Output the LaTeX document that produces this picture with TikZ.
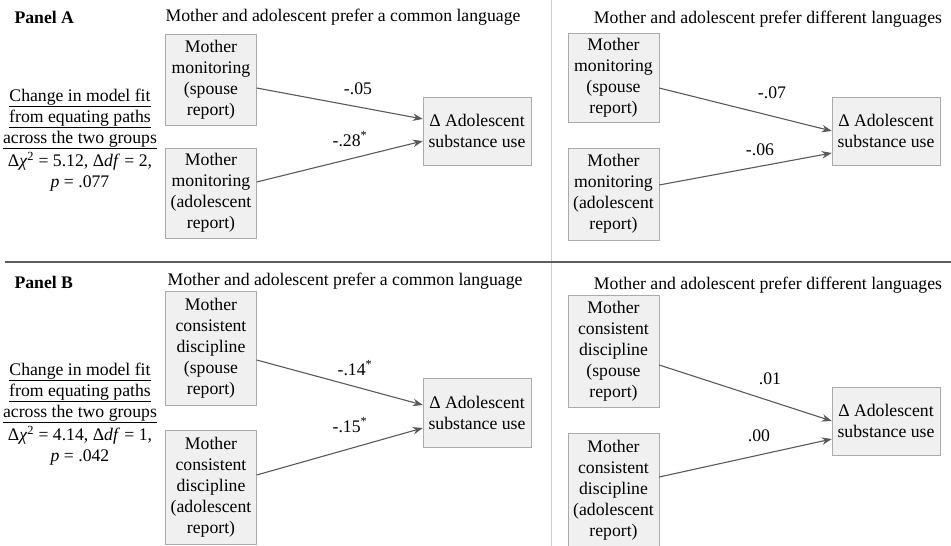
\documentclass[tikz,border=0pt]{standalone}
\usepackage{fontspec}
\setmainfont{Liberation Serif}
\usetikzlibrary{arrows.meta}

\definecolor{boxfill}{HTML}{F0F0F0}
\definecolor{boxline}{HTML}{ABABAB}
\definecolor{arrowgray}{HTML}{595959}
\definecolor{rulegray}{HTML}{5E5E5E}
\definecolor{splitgray}{HTML}{CDCDCD}

\begin{document}
\begin{tikzpicture}[x=1pt,y=-1pt,
  every node/.style={font=\fontsize{17.7}{21}\selectfont},
  varbox/.style={draw=boxline,fill=boxfill,align=center,inner sep=0pt,minimum width=91pt},
  dvbox/.style={varbox,minimum width=108pt,minimum height=68pt},
  arr/.style={draw=arrowgray,line width=1.1pt,-{Stealth[length=10pt,width=7.5pt]}}]

\useasboundingbox (0,0) rectangle (951,546);

\draw[splitgray,line width=0.9pt] (551,0) -- (551,546);
\draw[rulegray,line width=2.6pt] (5,262) -- (951,262);

% Panel A
\node at (11,17) [anchor=west,font=\fontsize{17.7}{21}\selectfont\bfseries] (pa) {Panel A};
\node at (343,17) (pa-same) {Mother and adolescent prefer a common language};
\node at (768,19) (pa-diff) {Mother and adolescent prefer different languages};

\node at (80,140) [align=center] (pa-fit) {\underline{Change in model fit}\\
  \underline{from equating paths}\\ \underline{across the two groups}\\[2pt]
  Δ\textit{χ}\textsuperscript{2} = 5.12, Δ\textit{df} = 2,\\ \textit{p} = .077};

\node at (211,79.5) [varbox,minimum height=91pt] (a-sp) {Mother\\ monitoring\\ (spouse\\ report)};
\node at (211,193) [varbox,minimum height=90pt] (a-ad) {Mother\\ monitoring\\ (adolescent\\ report)};
\node at (477,131) [dvbox] (a-out) {Δ Adolescent\\ substance use};

\draw[arr] ([yshift=-8.5pt]a-sp.east) -- ([yshift=12pt]a-out.west);
\draw[arr] ([yshift=11pt]a-ad.east) -- ([yshift=-10pt]a-out.west);
\node at (358,89) (a-c1) {-.05};
\node at (350,139) (a-c2) {-.28\textsuperscript{*}};

\node at (613.5,77.5) [varbox,minimum height=89pt] (b-sp) {Mother\\ monitoring\\ (spouse\\ report)};
\node at (613.5,194) [varbox,minimum height=92pt] (b-ad) {Mother\\ monitoring\\ (adolescent\\ report)};
\node at (886,131) [dvbox] (b-out) {Δ Adolescent\\ substance use};

\draw[arr] ([yshift=-10.5pt]b-sp.east) -- (b-out.west);
\draw[arr] ([yshift=9pt]b-ad.east) -- ([yshift=-22pt]b-out.west);
\node at (772,93) (b-c1) {-.07};
\node at (760,150) (b-c2) {-.06};

% Panel B
\node at (11,282) [anchor=west,font=\fontsize{17.7}{21}\selectfont\bfseries] (pb) {Panel B};
\node at (345,281) (pb-same) {Mother and adolescent prefer a common language};
\node at (768,285) (pb-diff) {Mother and adolescent prefer different languages};

\node at (80,414) [align=center] (pb-fit) {\underline{Change in model fit}\\
  \underline{from equating paths}\\ \underline{across the two groups}\\[2pt]
  Δ\textit{χ}\textsuperscript{2} = 4.14, Δ\textit{df} = 1,\\ \textit{p} = .042};

\node at (211,348) [varbox,minimum height=114pt] (c-sp) {Mother\\ consistent\\ discipline\\ (spouse\\ report)};
\node at (211,487) [varbox,minimum height=114pt] (c-ad) {Mother\\ consistent\\ discipline\\ (adolescent\\ report)};
\node at (477,412.5) [dvbox,minimum height=69pt] (c-out) {Δ Adolescent\\ substance use};

\draw[arr] ([yshift=-12pt]c-sp.east) -- ([yshift=7.5pt]c-out.west);
\draw[arr] ([yshift=12pt]c-ad.east) -- ([yshift=-15.5pt]c-out.west);
\node at (355,368) (c-c1) {-.14\textsuperscript{*}};
\node at (350,425) (c-c2) {-.15\textsuperscript{*}};

\node at (613.5,351) [varbox,minimum height=112pt] (d-sp) {Mother\\ consistent\\ discipline\\ (spouse\\ report)};
\node at (613.5,490) [varbox,minimum height=114pt] (d-ad) {Mother\\ consistent\\ discipline\\ (adolescent\\ report)};
\node at (886,421) [dvbox] (d-out) {Δ Adolescent\\ substance use};

\draw[arr] ([yshift=-14pt]d-sp.east) -- (d-out.west);
\draw[arr] ([yshift=13pt]d-ad.east) -- ([yshift=-18pt]d-out.west);
\node at (770,379) (d-c1) {.01};
\node at (759,436) (d-c2) {.00};

\end{tikzpicture}
\end{document}
